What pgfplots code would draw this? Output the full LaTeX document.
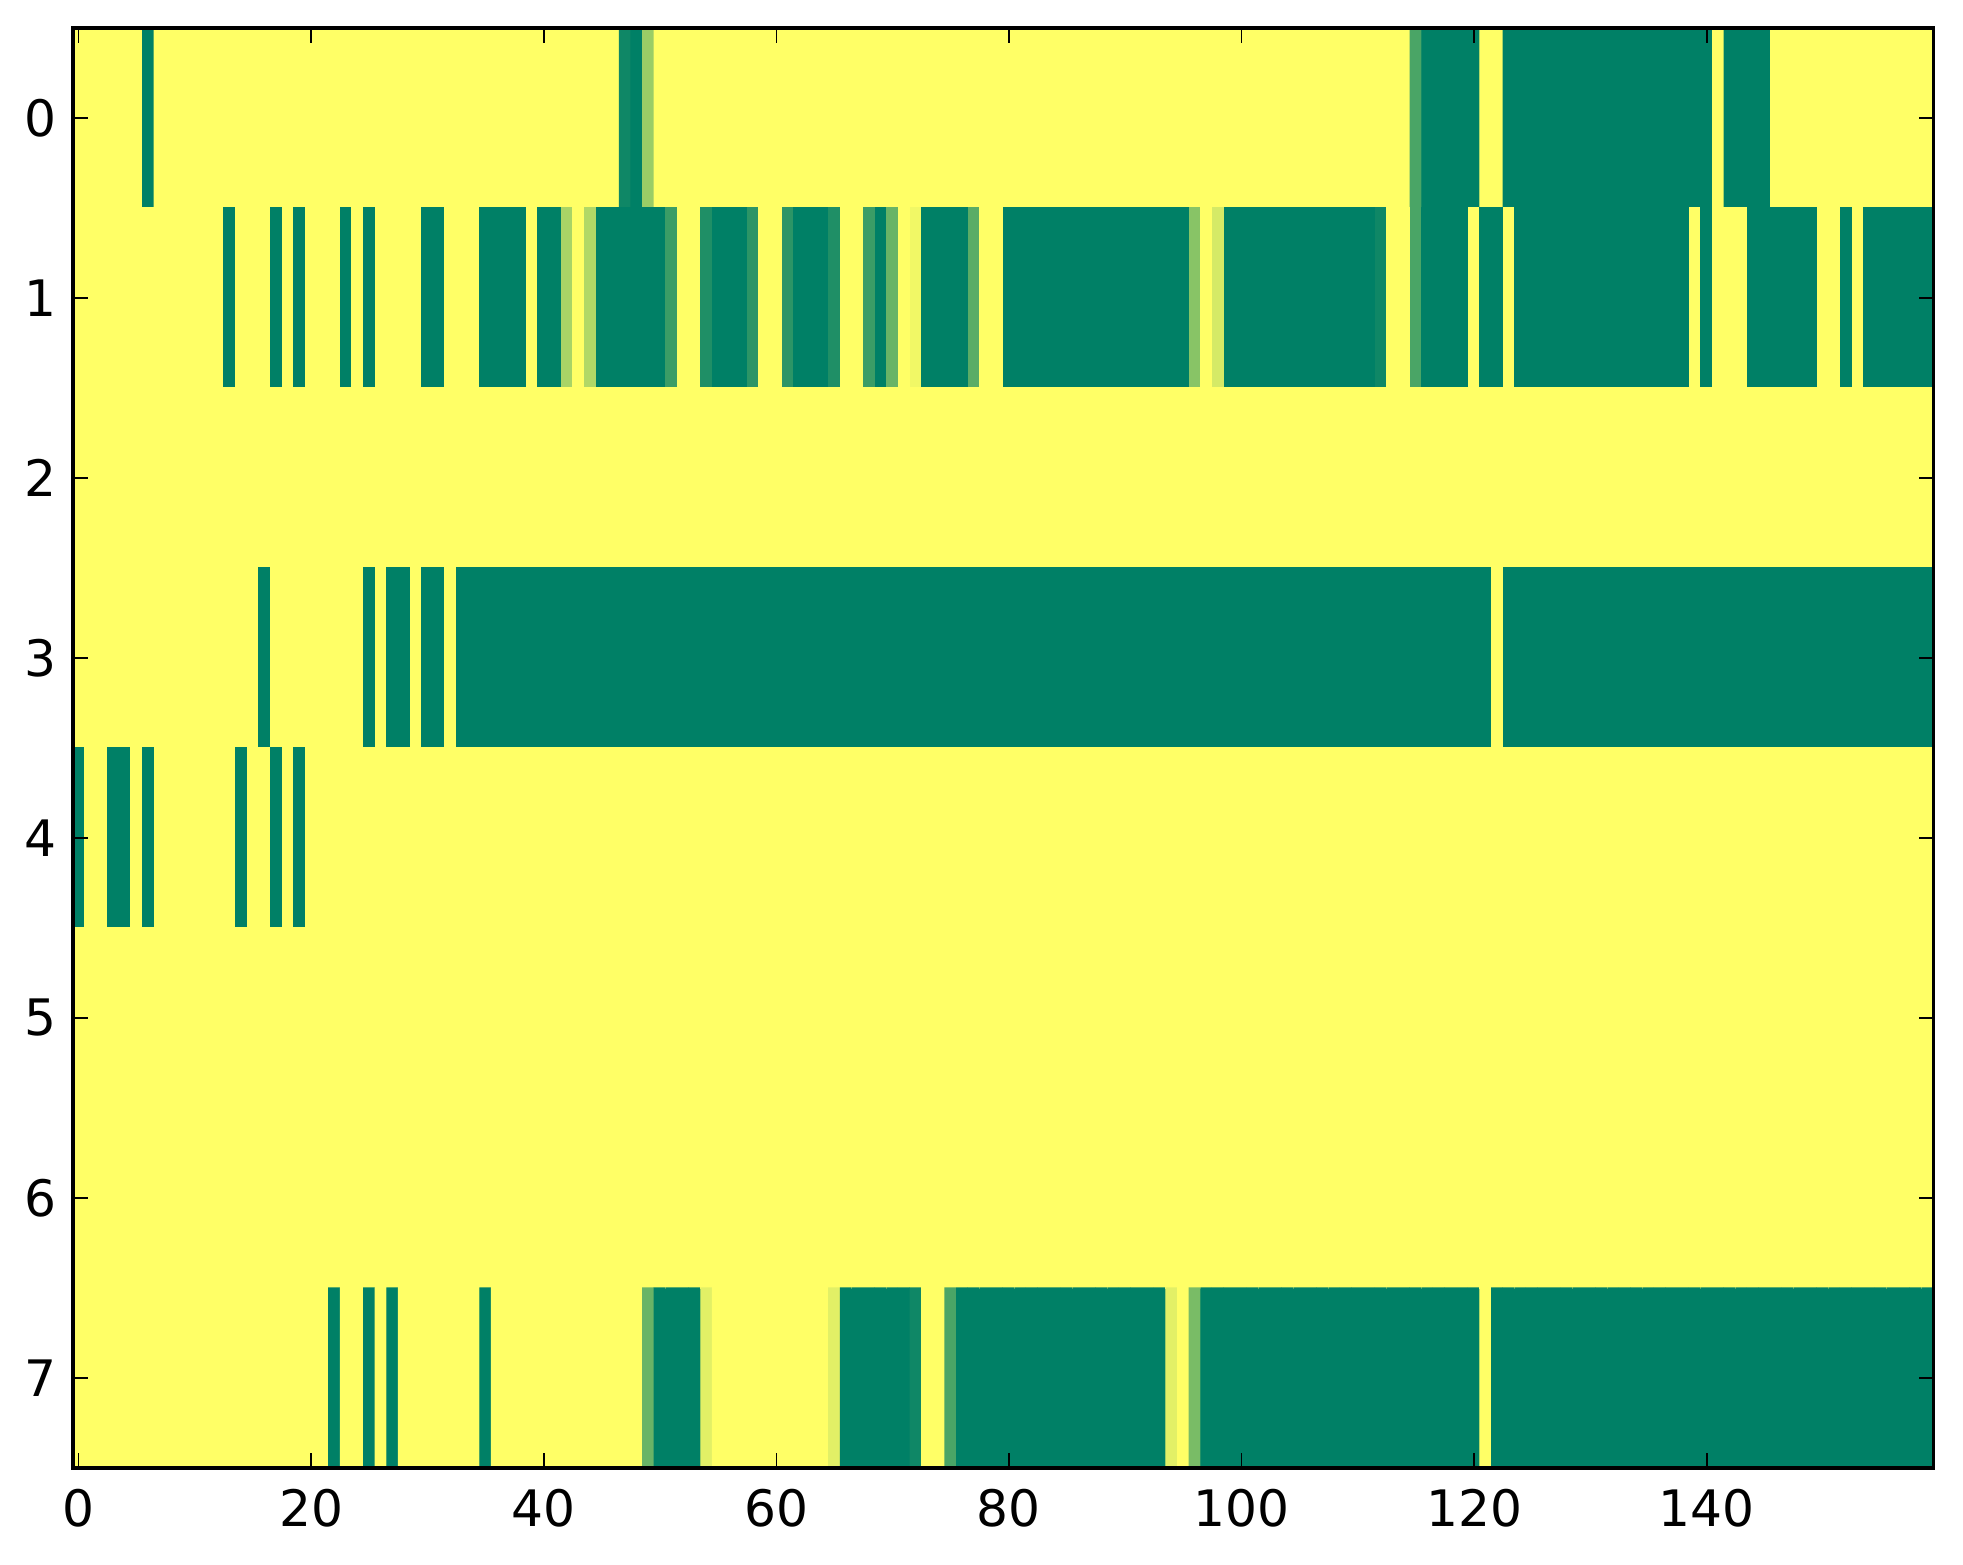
\documentclass[border=0pt]{standalone}
\usepackage{pgfplots}
\pgfplotsset{compat=1.18}
\usepackage{fontspec}
\setmainfont{DejaVu Sans}
\begin{document}
\begin{tikzpicture}
\useasboundingbox (0,0) rectangle (19.63cm,15.64cm);
\begin{axis}[
  at={(0.728cm,0.96cm)}, anchor=south west,
  scale only axis, width=18.607cm, height=14.40cm,
  xmin=-0.5, xmax=159.5, ymin=-0.5, ymax=7.5,
  y dir=reverse,
  enlargelimits=false,
  axis on top,
  xtick={0,20,...,140}, ytick={0,1,...,7},
  tick align=inside,
  major tick length=0.15cm,
  tick style={black, line width=0.5pt},
  axis line style={line width=0.97pt},
  tick label style={font=\fontsize{14.3}{16}\selectfont},
  /pgf/number format/assume math mode=true,
  xticklabel style={inner sep=0pt, yshift=-0.2cm},
  yticklabel style={inner sep=0pt, xshift=-0.16cm},
  colormap={summer}{rgb=(0,0.5,0.4) rgb=(1,1,0.4)},
  point meta min=0, point meta max=1,
]
\addplot[matrix plot*, shader=faceted, faceted color=mapped color, line width=0.3pt, mesh/cols=160, point meta=explicit]
  table[row sep=\\, x expr={mod(\coordindex,160)}, y expr={floor((\coordindex+0.5)/160)}, meta=c] {
c\\
% row 0
1\\1\\1\\1\\1\\1\\0\\1\\1\\1\\
1\\1\\1\\1\\1\\1\\1\\1\\1\\1\\
1\\1\\1\\1\\1\\1\\1\\1\\1\\1\\
1\\1\\1\\1\\1\\1\\1\\1\\1\\1\\
1\\1\\1\\1\\1\\1\\1\\0.06\\0\\0.6\\
1\\1\\1\\1\\1\\1\\1\\1\\1\\1\\
1\\1\\1\\1\\1\\1\\1\\1\\1\\1\\
1\\1\\1\\1\\1\\1\\1\\1\\1\\1\\
1\\1\\1\\1\\1\\1\\1\\1\\1\\1\\
1\\1\\1\\1\\1\\1\\1\\1\\1\\1\\
1\\1\\1\\1\\1\\1\\1\\1\\1\\1\\
1\\1\\1\\1\\1\\0.29\\0\\0\\0\\0\\
0\\1\\1\\0\\0\\0\\0\\0\\0\\0\\
0\\0\\0\\0\\0\\0\\0\\0\\0\\0\\
0\\1\\0\\0\\0\\0\\1\\1\\1\\1\\
1\\1\\1\\1\\1\\1\\1\\1\\1\\1\\
% row 1
1\\1\\1\\1\\1\\1\\1\\1\\1\\1\\
1\\1\\1\\0\\1\\1\\1\\0\\1\\0\\
1\\1\\1\\0\\1\\0\\1\\1\\1\\1\\
0\\0\\1\\1\\1\\0\\0\\0\\0\\1\\
0\\0\\0.66\\1\\0.69\\0\\0\\0\\0\\0\\
0\\0.23\\1\\1\\0.12\\0\\0\\0\\0.17\\1\\
1\\0.17\\0\\0\\0\\0.12\\1\\1\\0.23\\0\\
0.41\\1\\0.94\\0\\0\\0\\0\\0.35\\1\\1\\
0\\0\\0\\0\\0\\0\\0\\0\\0\\0\\
0\\0\\0\\0\\0\\0\\0.53\\1\\0.83\\0\\
0\\0\\0\\0\\0\\0\\0\\0\\0\\0\\
0\\0\\0.06\\1\\1\\0.29\\0\\0\\0\\0\\
1\\0\\0\\1\\0\\0\\0\\0\\0\\0\\
0\\0\\0\\0\\0\\0\\0\\0\\0\\1\\
0\\1\\1\\1\\0\\0\\0\\0\\0\\0\\
1\\1\\0\\1\\0\\0\\0\\0\\0\\0\\
% row 2
1\\1\\1\\1\\1\\1\\1\\1\\1\\1\\
1\\1\\1\\1\\1\\1\\1\\1\\1\\1\\
1\\1\\1\\1\\1\\1\\1\\1\\1\\1\\
1\\1\\1\\1\\1\\1\\1\\1\\1\\1\\
1\\1\\1\\1\\1\\1\\1\\1\\1\\1\\
1\\1\\1\\1\\1\\1\\1\\1\\1\\1\\
1\\1\\1\\1\\1\\1\\1\\1\\1\\1\\
1\\1\\1\\1\\1\\1\\1\\1\\1\\1\\
1\\1\\1\\1\\1\\1\\1\\1\\1\\1\\
1\\1\\1\\1\\1\\1\\1\\1\\1\\1\\
1\\1\\1\\1\\1\\1\\1\\1\\1\\1\\
1\\1\\1\\1\\1\\1\\1\\1\\1\\1\\
1\\1\\1\\1\\1\\1\\1\\1\\1\\1\\
1\\1\\1\\1\\1\\1\\1\\1\\1\\1\\
1\\1\\1\\1\\1\\1\\1\\1\\1\\1\\
1\\1\\1\\1\\1\\1\\1\\1\\1\\1\\
% row 3
1\\1\\1\\1\\1\\1\\1\\1\\1\\1\\
1\\1\\1\\1\\1\\1\\0\\1\\1\\1\\
1\\1\\1\\1\\1\\0\\1\\0\\0\\1\\
0\\0\\1\\0\\0\\0\\0\\0\\0\\0\\
0\\0\\0\\0\\0\\0\\0\\0\\0\\0\\
0\\0\\0\\0\\0\\0\\0\\0\\0\\0\\
0\\0\\0\\0\\0\\0\\0\\0\\0\\0\\
0\\0\\0\\0\\0\\0\\0\\0\\0\\0\\
0\\0\\0\\0\\0\\0\\0\\0\\0\\0\\
0\\0\\0\\0\\0\\0\\0\\0\\0\\0\\
0\\0\\0\\0\\0\\0\\0\\0\\0\\0\\
0\\0\\0\\0\\0\\0\\0\\0\\0\\0\\
0\\0\\1\\0\\0\\0\\0\\0\\0\\0\\
0\\0\\0\\0\\0\\0\\0\\0\\0\\0\\
0\\0\\0\\0\\0\\0\\0\\0\\0\\0\\
0\\0\\0\\0\\0\\0\\0\\0\\0\\0\\
% row 4
0\\1\\1\\0\\0\\1\\0\\1\\1\\1\\
1\\1\\1\\1\\0\\1\\1\\0\\1\\0\\
1\\1\\1\\1\\1\\1\\1\\1\\1\\1\\
1\\1\\1\\1\\1\\1\\1\\1\\1\\1\\
1\\1\\1\\1\\1\\1\\1\\1\\1\\1\\
1\\1\\1\\1\\1\\1\\1\\1\\1\\1\\
1\\1\\1\\1\\1\\1\\1\\1\\1\\1\\
1\\1\\1\\1\\1\\1\\1\\1\\1\\1\\
1\\1\\1\\1\\1\\1\\1\\1\\1\\1\\
1\\1\\1\\1\\1\\1\\1\\1\\1\\1\\
1\\1\\1\\1\\1\\1\\1\\1\\1\\1\\
1\\1\\1\\1\\1\\1\\1\\1\\1\\1\\
1\\1\\1\\1\\1\\1\\1\\1\\1\\1\\
1\\1\\1\\1\\1\\1\\1\\1\\1\\1\\
1\\1\\1\\1\\1\\1\\1\\1\\1\\1\\
1\\1\\1\\1\\1\\1\\1\\1\\1\\1\\
% row 5
1\\1\\1\\1\\1\\1\\1\\1\\1\\1\\
1\\1\\1\\1\\1\\1\\1\\1\\1\\1\\
1\\1\\1\\1\\1\\1\\1\\1\\1\\1\\
1\\1\\1\\1\\1\\1\\1\\1\\1\\1\\
1\\1\\1\\1\\1\\1\\1\\1\\1\\1\\
1\\1\\1\\1\\1\\1\\1\\1\\1\\1\\
1\\1\\1\\1\\1\\1\\1\\1\\1\\1\\
1\\1\\1\\1\\1\\1\\1\\1\\1\\1\\
1\\1\\1\\1\\1\\1\\1\\1\\1\\1\\
1\\1\\1\\1\\1\\1\\1\\1\\1\\1\\
1\\1\\1\\1\\1\\1\\1\\1\\1\\1\\
1\\1\\1\\1\\1\\1\\1\\1\\1\\1\\
1\\1\\1\\1\\1\\1\\1\\1\\1\\1\\
1\\1\\1\\1\\1\\1\\1\\1\\1\\1\\
1\\1\\1\\1\\1\\1\\1\\1\\1\\1\\
1\\1\\1\\1\\1\\1\\1\\1\\1\\1\\
% row 6
1\\1\\1\\1\\1\\1\\1\\1\\1\\1\\
1\\1\\1\\1\\1\\1\\1\\1\\1\\1\\
1\\1\\1\\1\\1\\1\\1\\1\\1\\1\\
1\\1\\1\\1\\1\\1\\1\\1\\1\\1\\
1\\1\\1\\1\\1\\1\\1\\1\\1\\1\\
1\\1\\1\\1\\1\\1\\1\\1\\1\\1\\
1\\1\\1\\1\\1\\1\\1\\1\\1\\1\\
1\\1\\1\\1\\1\\1\\1\\1\\1\\1\\
1\\1\\1\\1\\1\\1\\1\\1\\1\\1\\
1\\1\\1\\1\\1\\1\\1\\1\\1\\1\\
1\\1\\1\\1\\1\\1\\1\\1\\1\\1\\
1\\1\\1\\1\\1\\1\\1\\1\\1\\1\\
1\\1\\1\\1\\1\\1\\1\\1\\1\\1\\
1\\1\\1\\1\\1\\1\\1\\1\\1\\1\\
1\\1\\1\\1\\1\\1\\1\\1\\1\\1\\
1\\1\\1\\1\\1\\1\\1\\1\\1\\1\\
% row 7
1\\1\\1\\1\\1\\1\\1\\1\\1\\1\\
1\\1\\1\\1\\1\\1\\1\\1\\1\\1\\
1\\1\\0\\1\\1\\0\\1\\0\\1\\1\\
1\\1\\1\\1\\1\\0\\1\\1\\1\\1\\
1\\1\\1\\1\\1\\1\\1\\1\\1\\0.41\\
0\\0\\0\\0\\0.88\\1\\1\\1\\1\\1\\
1\\1\\1\\1\\1\\0.88\\0\\0\\0\\0\\
0\\0\\0.06\\1\\1\\0.29\\0\\0\\0\\0\\
0\\0\\0\\0\\0\\0\\0\\0\\0\\0\\
0\\0\\0\\0\\0.88\\1\\0.47\\0\\0\\0\\
0\\0\\0\\0\\0\\0\\0\\0\\0\\0\\
0\\0\\0\\0\\0\\0\\0\\0\\0\\0\\
0\\1\\0\\0\\0\\0\\0\\0\\0\\0\\
0\\0\\0\\0\\0\\0\\0\\0\\0\\0\\
0\\0\\0\\0\\0\\0\\0\\0\\0\\0\\
0\\0\\0\\0\\0\\0\\0\\0\\0\\0\\
};
\end{axis}
\end{tikzpicture}
\end{document}
